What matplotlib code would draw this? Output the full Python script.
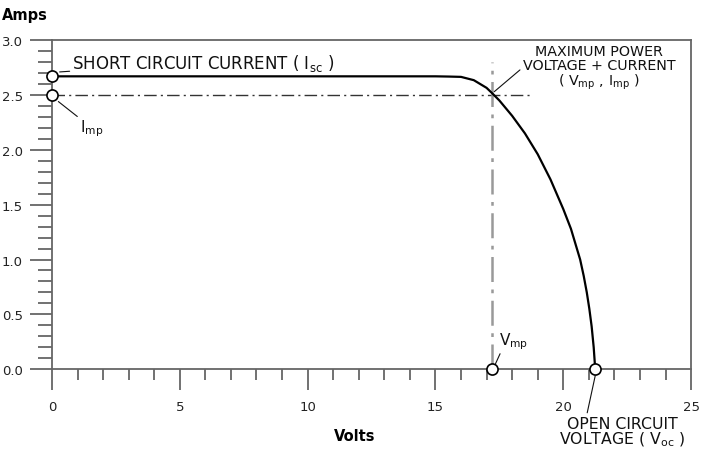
import matplotlib
matplotlib.use("Agg")
from matplotlib import pyplot as plt
from matplotlib.ticker import MultipleLocator, FormatStrFormatter

plt.rcParams['font.family'] = ['DejaVu Sans']

# I-V curve
volts = [0, 5, 10, 15, 15.5, 16.0, 16.5, 17.0, 17.2, 17.5, 18.0, 18.5, 19.0, 19.5,
         20.0, 20.3, 20.66, 20.8, 20.92, 21.02, 21.11, 21.19, 21.25]
amps = [2.67, 2.67, 2.67, 2.67, 2.668, 2.665, 2.635, 2.565, 2.52, 2.45, 2.31, 2.15, 1.96,
        1.73, 1.46, 1.28, 1.00, 0.85, 0.70, 0.55, 0.39, 0.20, 0.0]

isc = 2.67
imp = 2.5
vmp = 17.2
voc = 21.25

fig = plt.figure(figsize=(7.07, 4.52), dpi=100)
ax = fig.add_axes([0.0735, 0.181, 0.904, 0.728])

grey = '#666666'

# dash-dot guides for the maximum power point
ax.plot([0, 18.7], [imp, imp], color='#333333', lw=1.0, linestyle=(0, (9, 3, 1.5, 3)))
ax.plot([vmp, vmp], [0, 2.8], color='#999999', lw=1.8, linestyle=(0, (10, 3, 1.5, 3)))

# the curve itself
ax.plot(volts, amps, color='black', lw=1.6)

# open circles
circ_x = [0, 0, vmp, voc]
circ_y = [isc, imp, 0, 0]
ax.plot(circ_x, circ_y, 'o', ms=8, mfc='white', mec='black', mew=1.2, clip_on=False, zorder=5)

ax.set_xlim(0, 25)
ax.set_ylim(0, 3.0)
ax.xaxis.set_major_locator(MultipleLocator(5))
ax.xaxis.set_minor_locator(MultipleLocator(1))
ax.yaxis.set_major_locator(MultipleLocator(0.5))
ax.yaxis.set_minor_locator(MultipleLocator(0.1))
ax.yaxis.set_major_formatter(FormatStrFormatter('%.1f'))

for s in ax.spines.values():
    s.set_color(grey)
    s.set_linewidth(1.3)
ax.tick_params(which='both', direction='out', color=grey, width=1.3, labelsize=9.5,
               labelcolor='#222222')
ax.tick_params(axis='y', which='major', length=16, pad=5)
ax.tick_params(axis='y', which='minor', length=10)
ax.tick_params(axis='x', which='major', length=15, pad=7)
ax.tick_params(axis='x', which='minor', length=8)

fig.text(0.003, 0.965, 'Amps', fontsize=10.5, fontweight='bold', va='center')
fig.text(0.502, 0.035, 'Volts', fontsize=10.5, fontweight='bold', va='center', ha='center')

tcol = '#111111'
line_kw = dict(arrowstyle='-', color=tcol, lw=0.8, shrinkA=0, shrinkB=0)
ax.annotate('SHORT CIRCUIT CURRENT ( I$_{\\rm sc}$ )', xy=(0.3, 2.71), xytext=(0.8, 2.8),
            fontsize=12, color=tcol, va='center', arrowprops=line_kw)
ax.annotate('I$_{\\rm mp}$', xy=(0.25, 2.44), xytext=(1.1, 2.2),
            fontsize=11, color=tcol, va='center', arrowprops=line_kw)
ax.annotate('MAXIMUM POWER\nVOLTAGE + CURRENT\n( V$_{\\rm mp}$ , I$_{\\rm mp}$ )',
            xy=(vmp + 0.1, 2.53), xytext=(21.4, 2.75),
            fontsize=10.3, color=tcol, ha='center', va='center', linespacing=1.0,
            arrowprops=dict(line_kw, relpos=(0.0, 0.5)))
ax.annotate('V$_{\\rm mp}$', xy=(vmp + 0.15, 0.05), xytext=(17.5, 0.26),
            fontsize=11, color=tcol, va='center',
            arrowprops=dict(line_kw, relpos=(0.1, 0.1)))
ax.annotate('OPEN CIRCUIT\nVOLTAGE ( V$_{\\rm oc}$ )', xy=(voc, -0.06), xytext=(22.3, -0.57),
            fontsize=11.3, color=tcol, ha='center', va='center', linespacing=0.92,
            annotation_clip=False,
            arrowprops=dict(line_kw, relpos=(0.22, 1.0)))

fig.savefig('out.png', dpi=100)
